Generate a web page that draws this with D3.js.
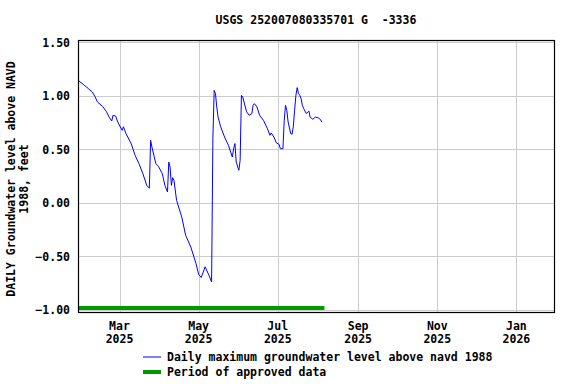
<!DOCTYPE html>
<meta charset="utf-8">
<script src="https://cdn.jsdelivr.net/npm/d3@7"></script>
<style>
    body { margin: 0; background: #fff; }
    text { font-family: "DejaVu Sans Mono", monospace; font-weight: bold; font-size: 11.5px; fill: #000; white-space: pre; }
    .grid line { stroke: #cccccc; stroke-width: 1; shape-rendering: crispEdges; }
</style>
<body>
<svg class="chart"></svg>
<script>
    ///////////////////////
    // Data
    var dates = [
        "2025-01-28", "2025-02-01", "2025-02-05", "2025-02-08", "2025-02-10", "2025-02-12",
        "2025-02-16", "2025-02-19", "2025-02-21", "2025-02-23", "2025-02-24", "2025-02-26",
        "2025-02-28", "2025-03-03", "2025-03-04", "2025-03-06", "2025-03-10", "2025-03-13",
        "2025-03-16", "2025-03-19", "2025-03-22", "2025-03-24", "2025-03-25", "2025-03-26",
        "2025-03-29", "2025-03-31", "2025-04-03", "2025-04-05", "2025-04-07", "2025-04-08",
        "2025-04-09", "2025-04-10", "2025-04-11", "2025-04-12", "2025-04-14", "2025-04-18",
        "2025-04-21", "2025-04-25", "2025-04-29", "2025-05-01", "2025-05-03", "2025-05-06",
        "2025-05-09", "2025-05-11", "2025-05-12", "2025-05-13", "2025-05-14", "2025-05-15",
        "2025-05-16", "2025-05-18", "2025-05-21", "2025-05-24", "2025-05-27", "2025-05-28",
        "2025-05-29", "2025-05-30", "2025-06-01", "2025-06-02", "2025-06-03", "2025-06-04",
        "2025-06-06", "2025-06-07", "2025-06-09", "2025-06-11", "2025-06-12", "2025-06-13",
        "2025-06-15", "2025-06-17", "2025-06-20", "2025-06-23", "2025-06-25", "2025-06-26",
        "2025-06-28", "2025-06-30", "2025-07-02", "2025-07-03", "2025-07-05", "2025-07-06",
        "2025-07-07", "2025-07-08", "2025-07-09", "2025-07-11", "2025-07-12", "2025-07-13",
        "2025-07-14", "2025-07-15", "2025-07-16", "2025-07-17", "2025-07-18", "2025-07-19",
        "2025-07-20", "2025-07-21", "2025-07-23", "2025-07-25", "2025-07-26", "2025-07-28",
        "2025-07-30", "2025-08-01", "2025-08-03", "2025-08-04"
    ];
    var levels = [
        1.145, 1.107, 1.067, 1.035, 0.995, 0.942,
        0.900, 0.850, 0.800, 0.764, 0.817, 0.810,
        0.745, 0.677, 0.710, 0.646, 0.553, 0.443,
        0.365, 0.272, 0.162, 0.135, 0.583, 0.520,
        0.365, 0.340, 0.272, 0.162, 0.100, 0.380,
        0.333, 0.162, 0.234, 0.209, 0.022, -0.134,
        -0.305, -0.415, -0.570, -0.670, -0.700, -0.600,
        -0.680, -0.742, 0.600, 1.050, 1.020, 0.895,
        0.800, 0.710, 0.614, 0.536, 0.427, 0.505,
        0.553, 0.380, 0.303, 0.396, 1.004, 0.988,
        0.895, 0.850, 0.817, 0.833, 0.910, 0.926,
        0.895, 0.817, 0.770, 0.693, 0.630, 0.652,
        0.614, 0.558, 0.546, 0.505, 0.505, 0.770,
        0.910, 0.864, 0.755, 0.646, 0.640, 0.710,
        0.864, 1.004, 1.076, 1.020, 1.004, 0.973,
        0.910, 0.880, 0.833, 0.857, 0.800, 0.780,
        0.800, 0.795, 0.777, 0.752
    ];
    var approvedStart = "2025-01-28";
    var approvedEnd = "2025-08-06";

    var xDomain = ["2025-01-28", "2026-01-30"];
    var yDomain = [-1.0225, 1.5215];
    var yTicks = [-1.0, -0.5, 0.0, 0.5, 1.0, 1.5];
    var xTicks = ["2025-03-01", "2025-05-01", "2025-07-01", "2025-09-01", "2025-11-01", "2026-01-01"];

    var title = "USGS 252007080335701 G  -3336";
    var yTitle = ["DAILY Groundwater level above NAVD", "1988, feet"];
    var legendLabels = ["Daily maximum groundwater level above navd 1988", "Period of approved data"];

    var parse = d3.timeParse("%Y-%m-%d");
    var data = dates.map(function(d, i) {
        return { date: parse(d), value: levels[i] };
    });

    ///////////////////////
    // Chart Size Setup
    var W = 576, H = 384;
    var margin = { top: 40, right: 22, bottom: 72, left: 78 };
    var width = W - margin.left - margin.right;
    var height = H - margin.top - margin.bottom;

    var svg = d3.select(".chart").attr("width", W).attr("height", H);
    var chart = svg.append("g")
        .attr("transform", "translate(" + margin.left + "," + margin.top + ")");

    ///////////////////////
    // Scales
    var x = d3.scaleTime()
        .domain(xDomain.map(parse))
        .range([0, width]);

    var y = d3.scaleLinear()
        .domain(yDomain)
        .range([height, 0]);

    ///////////////////////
    // Grid
    var grid = chart.append("g").attr("class", "grid");
    grid.selectAll(".gx")
        .data(xTicks.map(parse))
        .enter().append("line")
        .attr("x1", function(d) { return Math.round(x(d)) + 0.5; })
        .attr("x2", function(d) { return Math.round(x(d)) + 0.5; })
        .attr("y1", 0).attr("y2", height);
    grid.selectAll(".gy")
        .data(yTicks)
        .enter().append("line")
        .attr("x1", 0).attr("x2", width)
        .attr("y1", function(d) { return Math.round(y(d)) + 0.5; })
        .attr("y2", function(d) { return Math.round(y(d)) + 0.5; });

    ///////////////////////
    // Axes labels
    var yAxis = d3.axisLeft(y)
        .tickValues(yTicks)
        .tickFormat(d3.format(".2f"))
        .tickSize(0)
        .tickPadding(8);
    var gy = chart.append("g").call(yAxis);
    gy.select(".domain").remove();
    gy.selectAll("text").attr("dy", "0.35em");
    gy.attr("font-family", null).attr("font-size", null);

    var fmtMonth = d3.timeFormat("%b"), fmtYear = d3.timeFormat("%Y");
    var xl = chart.append("g").selectAll("g")
        .data(xTicks.map(parse))
        .enter().append("text")
        .attr("text-anchor", "middle")
        .attr("x", function(d) { return x(d); })
        .attr("y", height + 18);
    xl.append("tspan").attr("x", function(d) { return x(d); }).text(function(d) { return fmtMonth(d); });
    xl.append("tspan").attr("x", function(d) { return x(d); }).attr("dy", 13).text(function(d) { return fmtYear(d); });

    ///////////////////////
    // Approved period bar
    chart.append("line")
        .attr("x1", x(parse(approvedStart)))
        .attr("x2", x(parse(approvedEnd)))
        .attr("y1", y(-1.0) - 1.5)
        .attr("y2", y(-1.0) - 1.5)
        .attr("stroke", "#009900")
        .attr("stroke-width", 4);

    ///////////////////////
    // Line
    var line = d3.line()
        .x(function(d) { return x(d.date); })
        .y(function(d) { return y(d.value); });

    chart.append("path")
        .datum(data)
        .attr("fill", "none")
        .attr("stroke", "#0000ff")
        .attr("stroke-width", 1)
        .attr("d", line);

    // Frame
    chart.append("rect")
        .attr("x", 0.5).attr("y", 0.5)
        .attr("width", width).attr("height", height)
        .attr("fill", "none")
        .attr("stroke", "#000")
        .attr("stroke-width", 1.2);

    ///////////////////////
    // Titles
    svg.append("text")
        .attr("x", margin.left + width / 2)
        .attr("y", 24)
        .attr("text-anchor", "middle")
        .text(title);

    var yt = svg.append("text")
        .attr("text-anchor", "middle")
        .attr("transform", "translate(15," + (margin.top + height / 2 + 3) + ") rotate(-90)");
    yt.append("tspan").attr("x", 0).attr("y", 0).text(yTitle[0]);
    yt.append("tspan").attr("x", 0).attr("y", 13).text(yTitle[1]);

    ///////////////////////
    // Legend
    var legend = svg.append("g").attr("transform", "translate(143,357)");
    legend.append("line")
        .attr("x1", 0).attr("x2", 18).attr("y1", 0).attr("y2", 0)
        .attr("stroke", "#0000ff").attr("stroke-width", 1);
    legend.append("text").attr("x", 24).attr("y", 4).text(legendLabels[0]);
    legend.append("line")
        .attr("x1", 0).attr("x2", 18).attr("y1", 15).attr("y2", 15)
        .attr("stroke", "#009900").attr("stroke-width", 4);
    legend.append("text").attr("x", 24).attr("y", 19).text(legendLabels[1]);
</script>
</body>
